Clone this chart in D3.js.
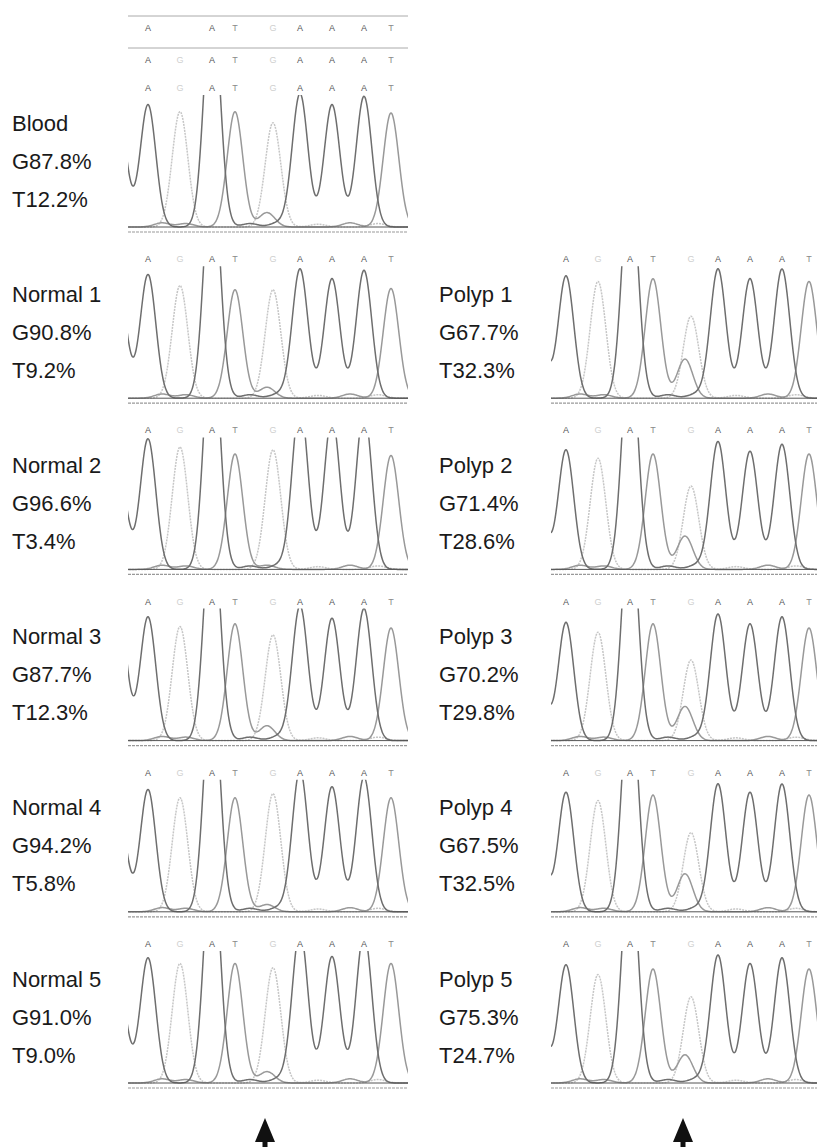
<!DOCTYPE html>
<html>
<head>
<meta charset="utf-8">
<script src="https://cdn.jsdelivr.net/npm/d3@7"></script>
<style>
  body { margin: 0; background: #fff; }
  text { font-family: "Liberation Sans", Arial, sans-serif; }
</style>
</head>
<body>
<svg></svg>
<script>
const width = 817, height = 1147;

// base calls and where their peaks sit (scan units)
const bases = ["A", "G", "A", "T", "G", "A", "A", "A", "T"];
const peakScan = [20, 52, 84, 107, 145, 172, 204, 236, 263];
const minorScan = 139;   // T peak under the G at the mutation site
const leadScan = -9;     // tail of the base before the window (A trace)
const arrowScan = 137;

// peak heights per panel, 100 = base-call row
const bloodPeaks   = [88, 83, 170, 83, 75, 96, 88, 94, 82];
const normal1Peaks = [89, 81, 170, 78, 78, 93, 86, 92, 79];
const normal2Peaks = [94, 88, 175, 83, 86, 120, 110, 115, 82];
const normal3Peaks = [89, 82, 165, 84, 76, 97, 88, 95, 81];
const normal4Peaks = [88, 82, 170, 82, 85, 102, 90, 97, 82];
const normal5Peaks = [90, 86, 170, 86, 83, 110, 91, 108, 86];
const polyp1Peaks  = [88, 84, 165, 86, 59, 93, 86, 93, 84];
const polyp2Peaks  = [86, 80, 165, 83, 60, 92, 85, 90, 83];
const polyp3Peaks  = [85, 78, 165, 84, 58, 91, 84, 89, 81];
const polyp4Peaks  = [86, 80, 165, 84, 57, 92, 86, 92, 84];
const polyp5Peaks  = [85, 78, 165, 82, 62, 92, 86, 90, 82];

const panelNames = ["Blood", "Normal 1", "Normal 2", "Normal 3", "Normal 4", "Normal 5",
                    "Polyp 1", "Polyp 2", "Polyp 3", "Polyp 4", "Polyp 5"];
const gPct = ["87.8", "90.8", "96.6", "87.7", "94.2", "91.0", "67.7", "71.4", "70.2", "67.5", "75.3"];
const tPct = ["12.2", "9.2", "3.4", "12.3", "5.8", "9.0", "32.3", "28.6", "29.8", "32.5", "24.7"];
const minorT = [10.4, 7.9, 3.0, 10.7, 5.2, 8.2, 28.1, 24.0, 24.6, 27.4, 20.3];
const leadH  = [78, 78, 70, 92, 70, 70, 65, 65, 65, 65, 65];
const panelCol = [0, 0, 0, 0, 0, 0, 1, 1, 1, 1, 1];
const panelRow = [0, 1, 2, 3, 4, 5, 1, 2, 3, 4, 5];

// little baseline bumps
const noise = [[34, "T", 3], [58, "T", 2.5], [122, "A", 2.5], [150, "A", 3], [190, "G", 2], [222, "T", 3], [250, "G", 2.5]];

// top rows of the blood trace (earlier reads)
const topRow1 = ["A", "", "A", "T", "G", "A", "A", "A", "T"];
const topRow2 = ["A", "G", "A", "T", "G", "A", "A", "A", "T"];

const allPeaks = [bloodPeaks, normal1Peaks, normal2Peaks, normal3Peaks, normal4Peaks, normal5Peaks,
                  polyp1Peaks, polyp2Peaks, polyp3Peaks, polyp4Peaks, polyp5Peaks];

const traceColor = { A: "#6e6e6e", T: "#999", G: "#c6c6c6" };
const letterColor = { A: "#555", T: "#8a8a8a", G: "#cfcfcf" };
const sigma = 7.8;

const svg = d3.select("svg").attr("width", width).attr("height", height);
svg.append("rect").attr("width", width).attr("height", height).attr("fill", "#fff");

const colX0 = [128, 546];
const colClip = [[128, 408], [551, 817]];
const rowLetterY = d => 88 + 171.2 * d;

const scans = d3.range(-20, 296, 1);

allPeaks.forEach((peaks, i) => {
  const col = panelCol[i];
  const ly = rowLetterY(panelRow[i]);
  const base = ly + 139;
  const x = d3.scaleLinear().domain([0, 280]).range([colX0[col], colX0[col] + 280]);
  const y = d3.scaleLinear().domain([0, 100]).range([base, ly]);

  const g = svg.append("g");
  const clipId = "clip" + i;
  svg.append("clipPath").attr("id", clipId).append("rect")
    .attr("x", colClip[col][0]).attr("y", ly + 7)
    .attr("width", colClip[col][1] - colClip[col][0]).attr("height", base - ly - 4);

  // peak list per trace
  const list = { A: [[leadScan, leadH[i]]], G: [], T: [[minorScan, minorT[i]]] };
  bases.forEach((b, k) => list[b].push([peakScan[k], peaks[k]]));
  noise.forEach(n => list[n[1]].push([n[0], n[2]]));

  const line = d3.line().x(d => x(d[0])).y(d => y(d[1])).curve(d3.curveMonotoneX);

  ["G", "T", "A"].forEach(b => {
    const pts = scans.map(s => [s, d3.sum(list[b], p => p[1] * Math.exp(-((s - p[0]) ** 2) / (2 * sigma * sigma)))]);
    g.append("path")
      .attr("clip-path", `url(#${clipId})`)
      .attr("d", line(pts))
      .attr("fill", "none")
      .attr("stroke", traceColor[b])
      .attr("stroke-width", 1.5)
      .attr("stroke-dasharray", b === "G" ? "2,1" : null);
  });

  // baseline rules
  g.append("line").attr("x1", colClip[col][0]).attr("x2", colClip[col][1])
    .attr("y1", base).attr("y2", base).attr("stroke", "#555").attr("stroke-width", 1);
  g.append("line").attr("x1", colClip[col][0]).attr("x2", colClip[col][1])
    .attr("y1", base + 5).attr("y2", base + 5).attr("stroke", "#999").attr("stroke-width", 1.2)
    .attr("stroke-dasharray", "3,1");

  // base calls
  const calls = i === 0 ? [[topRow1, 28], [topRow2, 60], [bases, ly]] : [[bases, ly]];
  calls.forEach(([row, yy]) => {
    g.selectAll(null).data(row).join("text")
      .attr("x", (d, k) => x(peakScan[k]))
      .attr("y", yy)
      .attr("text-anchor", "middle")
      .attr("dominant-baseline", "central")
      .attr("font-size", 9)
      .attr("fill", d => letterColor[d] || "#fff")
      .text(d => d);
  });
  if (i === 0) {
    [16, 48].forEach(yy => g.append("line").attr("x1", 128).attr("x2", 408)
      .attr("y1", yy).attr("y2", yy).attr("stroke", "#aaa").attr("stroke-width", 1));
  }

  // sample labels
  const lx = col === 0 ? 12 : 439;
  [panelNames[i], "G" + gPct[i] + "%", "T" + tPct[i] + "%"].forEach((t, k) => {
    svg.append("text").attr("x", lx).attr("y", ly + 35 + 38 * k)
      .attr("dominant-baseline", "central")
      .attr("font-size", 22).attr("fill", "#1a1a1a").text(t);
  });
});

// arrows under the mutation site
colX0.forEach(x0 => {
  const ax = x0 + arrowScan;
  const top = 1118;
  svg.append("path")
    .attr("d", `M${ax},${top} L${ax + 10},${top + 24} L${ax - 10},${top + 24} Z`)
    .attr("fill", "#111");
  svg.append("rect").attr("x", ax - 2.5).attr("y", top + 22).attr("width", 5).attr("height", 10).attr("fill", "#111");
});
</script>
</body>
</html>
